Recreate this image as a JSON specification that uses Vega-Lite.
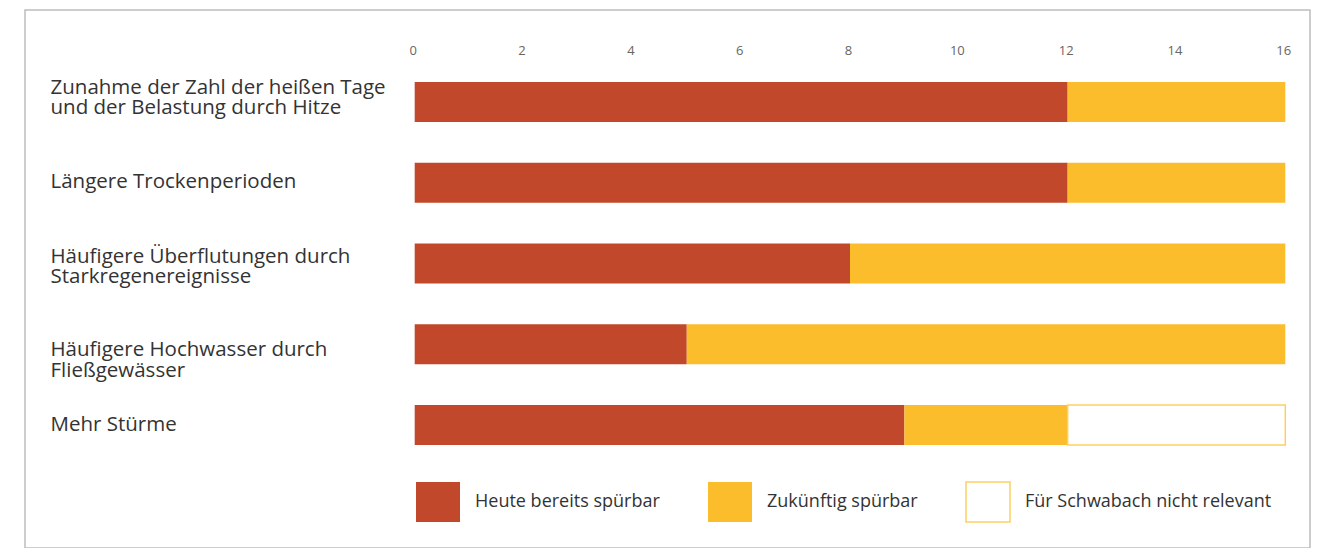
{
  "$schema": "https://vega.github.io/schema/vega-lite/v6.json",
  "autosize": {"type": "none"},
  "padding": {"left": 25, "top": 10, "right": 16, "bottom": 0},
  "width": 1285,
  "height": 538,
  "background": "white",
  "config": {
    "view": {"stroke": "#bdbdbd", "strokeWidth": 1.5},
    "font": "Open Sans"
  },
  "data": {
    "values": [
      {"kategorie": "Zunahme der Zahl der heißen Tage\nund der Belastung durch Hitze", "art": "Heute bereits spürbar", "wert": 12, "ordnung": 1},
      {"kategorie": "Zunahme der Zahl der heißen Tage\nund der Belastung durch Hitze", "art": "Zukünftig spürbar", "wert": 4, "ordnung": 2},
      {"kategorie": "Längere Trockenperioden", "art": "Heute bereits spürbar", "wert": 12, "ordnung": 1},
      {"kategorie": "Längere Trockenperioden", "art": "Zukünftig spürbar", "wert": 4, "ordnung": 2},
      {"kategorie": "Häufigere Überflutungen durch\nStarkregenereignisse", "art": "Heute bereits spürbar", "wert": 8, "ordnung": 1},
      {"kategorie": "Häufigere Überflutungen durch\nStarkregenereignisse", "art": "Zukünftig spürbar", "wert": 8, "ordnung": 2},
      {"kategorie": "Häufigere Hochwasser durch\nFließgewässer", "art": "Heute bereits spürbar", "wert": 5, "ordnung": 1},
      {"kategorie": "Häufigere Hochwasser durch\nFließgewässer", "art": "Zukünftig spürbar", "wert": 11, "ordnung": 2},
      {"kategorie": "Mehr Stürme", "art": "Heute bereits spürbar", "wert": 9, "ordnung": 1},
      {"kategorie": "Mehr Stürme", "art": "Zukünftig spürbar", "wert": 3, "ordnung": 2},
      {"kategorie": "Mehr Stürme", "art": "Für Schwabach nicht relevant", "wert": 4, "ordnung": 3}
    ]
  },
  "mark": {"type": "bar", "strokeWidth": 1.5, "size": 40},
  "encoding": {
    "y": {
      "field": "kategorie",
      "type": "nominal",
      "sort": null,
      "scale": {"paddingInner": 0.3375, "paddingOuter": 1, "align": 0.404},
      "axis": {
        "title": null,
        "domain": false,
        "ticks": false,
        "tickSize": 0,
        "labelAlign": "left",
        "labelPadding": -25,
        "labelLimit": 500,
        "labelFontSize": 20.5,
        "labelColor": "#333333",
        "labelLineHeight": 20.5,
        "labelExpr": "split(datum.label, '\\n')",
        "labelOffset": {
          "condition": [
            {"test": "indexof(datum.value, 'Zunahme') == 0", "value": -14},
            {"test": "indexof(datum.value, 'Häufigere Hochwasser') == 0", "value": 6},
            {"test": "indexof(datum.value, 'Häufigere Überflutungen') == 0", "value": -6.5},
            {"test": "indexof(datum.value, 'Längere') == 0", "value": -1}
          ],
          "value": 0
        }
      }
    },
    "x": {
      "field": "wert",
      "type": "quantitative",
      "stack": "zero",
      "scale": {"domain": [-7.162, 16.454], "nice": false, "zero": false},
      "axis": {
        "orient": "top",
        "title": null,
        "values": [0, 2, 4, 6, 8, 10, 12, 14, 16],
        "domain": false,
        "ticks": false,
        "tickSize": 0,
        "grid": false,
        "labelPadding": -47,
        "labelFontSize": 13,
        "labelColor": "#666666",
        "labelOffset": -2
      }
    },
    "order": {"field": "ordnung", "type": "quantitative"},
    "color": {
      "field": "art",
      "type": "nominal",
      "scale": {
        "domain": ["Heute bereits spürbar", "Zukünftig spürbar", "Für Schwabach nicht relevant"],
        "range": ["#C1482A", "#FBBD2C", "#FFFFFF"]
      },
      "legend": {
        "title": null,
        "orient": "none",
        "direction": "horizontal",
        "legendX": 392,
        "legendY": 471,
        "symbolType": "M-1.1,-1H1.1V1H-1.1Z",
        "symbolSize": 1600,
        "symbolOpacity": 1,
        "symbolStrokeWidth": 1.5,
        "labelFontSize": 18,
        "labelColor": "#333333",
        "labelOffset": 16,
        "labelLimit": 400,
        "columnPadding": 45,
        "padding": 0
      }
    },
    "stroke": {
      "field": "art",
      "type": "nominal",
      "scale": {
        "domain": ["Heute bereits spürbar", "Zukünftig spürbar", "Für Schwabach nicht relevant"],
        "range": ["transparent", "transparent", "#FCCF63"]
      },
      "legend": {
        "title": null,
        "orient": "none",
        "direction": "horizontal",
        "legendX": 392,
        "legendY": 471,
        "symbolType": "M-1.1,-1H1.1V1H-1.1Z",
        "symbolSize": 1600,
        "symbolOpacity": 1,
        "symbolStrokeWidth": 1.5,
        "labelFontSize": 18,
        "labelColor": "#333333",
        "labelOffset": 16,
        "labelLimit": 400,
        "columnPadding": 45,
        "padding": 0
      }
    }
  }
}
